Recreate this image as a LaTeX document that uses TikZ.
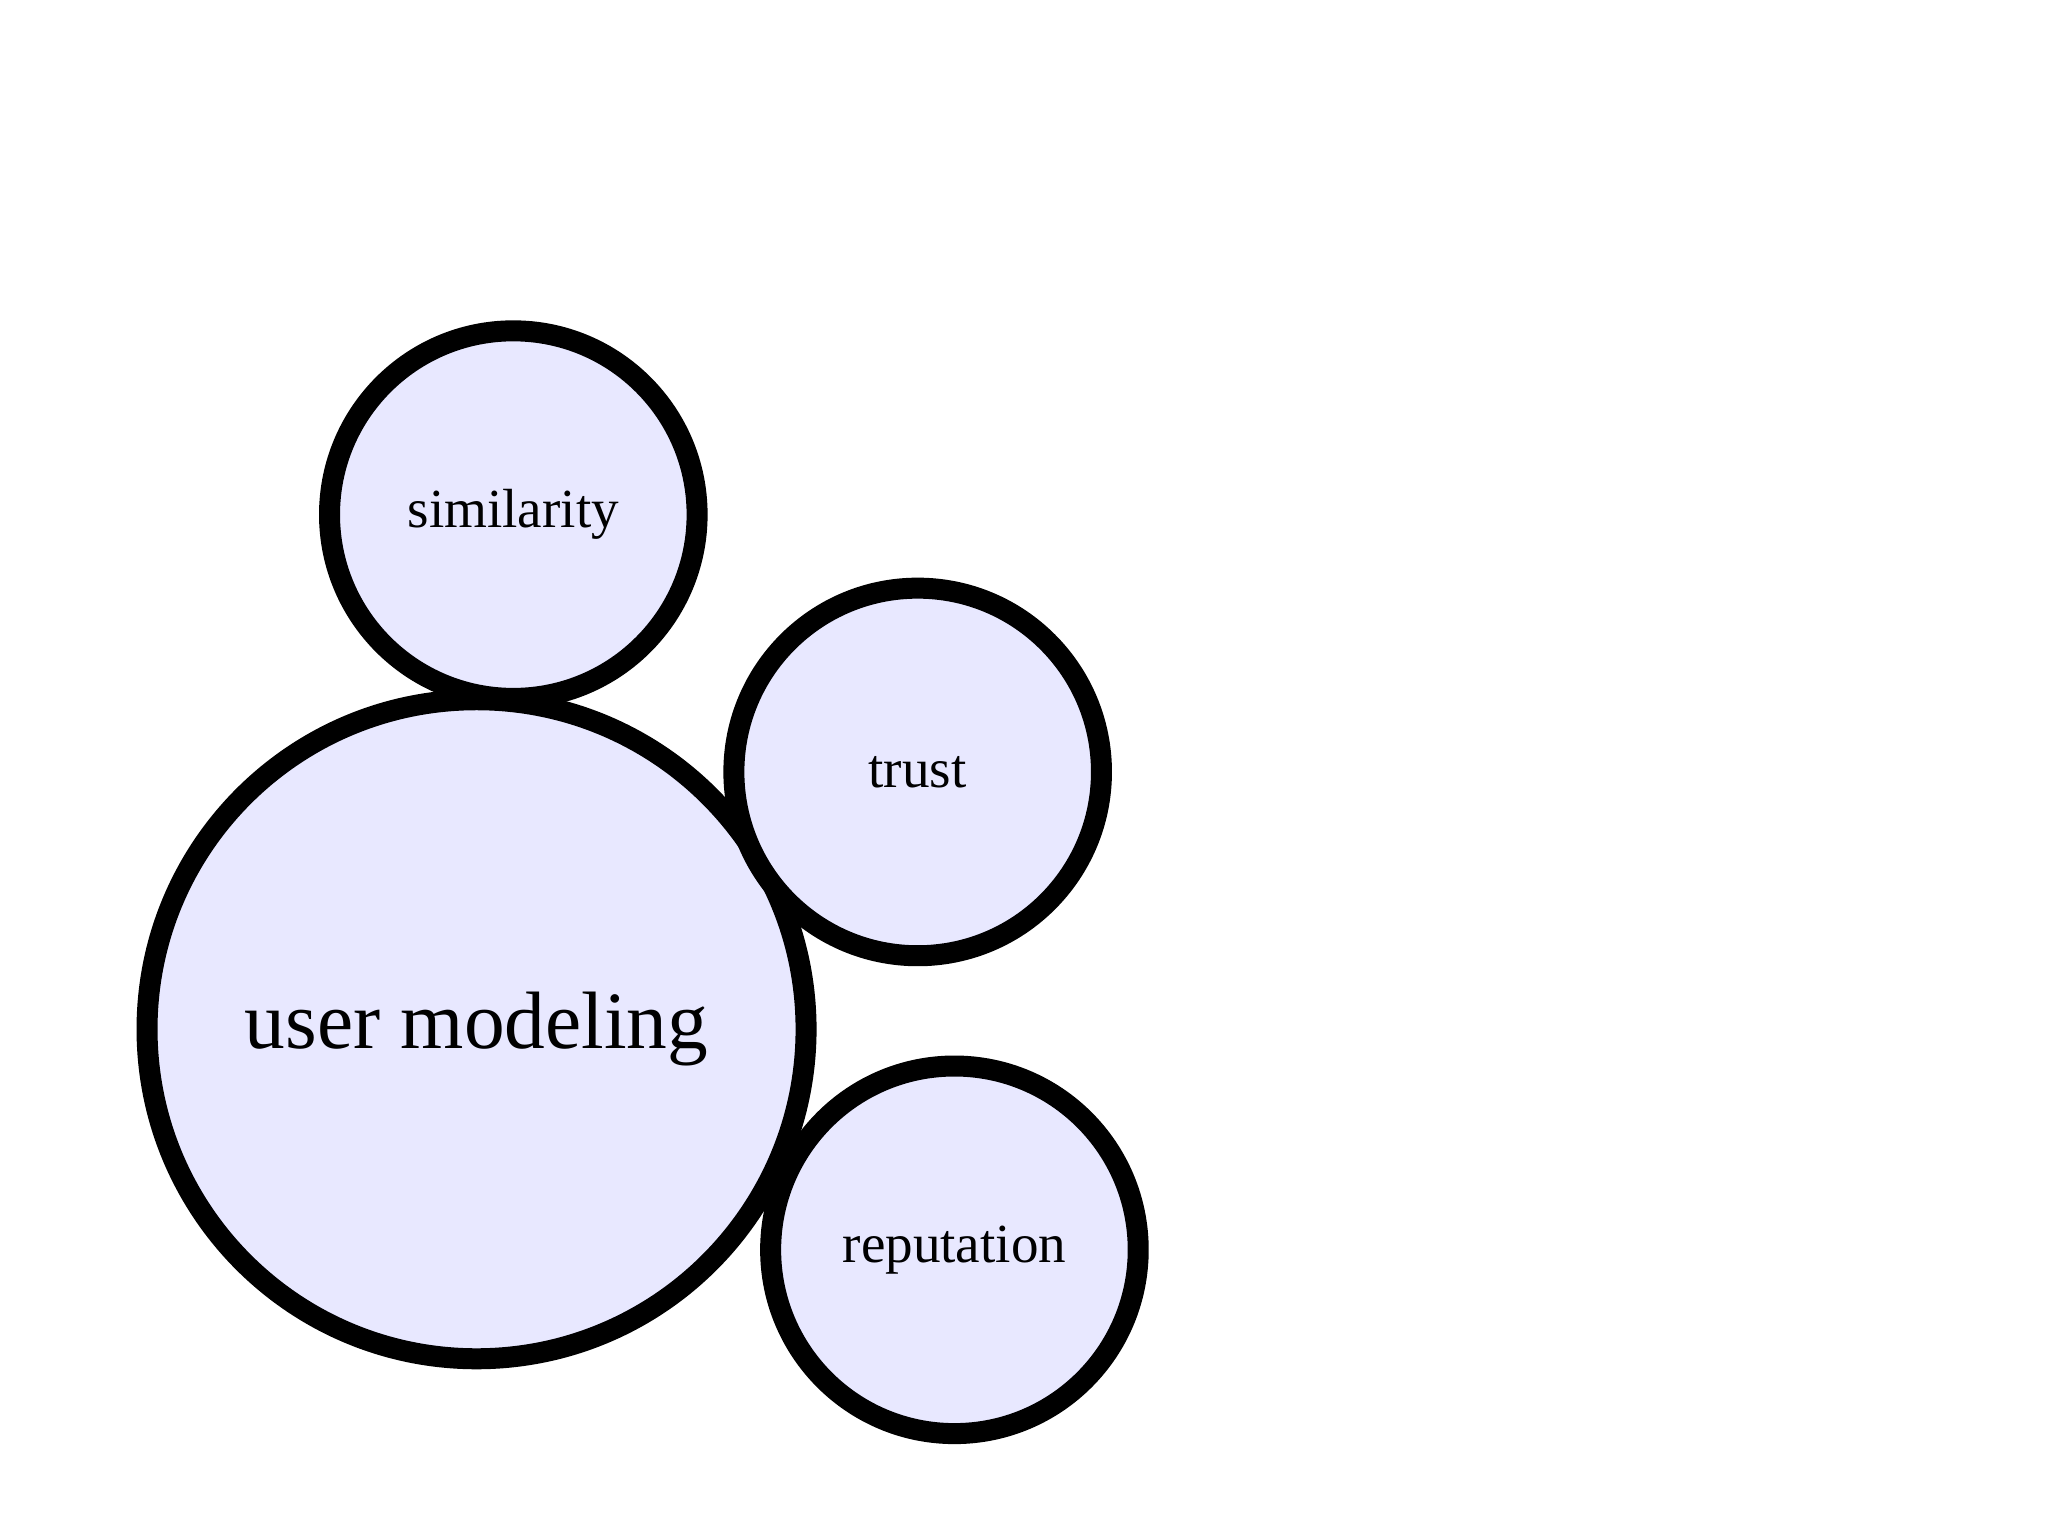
\documentclass[tikz,border=0pt]{standalone}
\usepackage{fontspec}
\setmainfont{Liberation Serif}
\begin{document}
\begin{tikzpicture}[x=1pt,y=-1pt,
  bub/.style={circle,draw=black,line width=16pt,fill=blue!9!white,inner sep=0pt},
  small/.style={font=\fontsize{42}{48}\selectfont}]
\useasboundingbox (0,0) rectangle (1560,1169);
\node[bub,minimum size=502pt,font=\fontsize{62}{70}\selectfont] (um) at (363,784) {user modeling};
\node[bub,minimum size=280pt,small] (sim) at (391,392) {similarity};
\node[bub,minimum size=280pt,small] (tr) at (699,588) {trust};
\node[bub,minimum size=280pt,small] (rep) at (727,952) {reputation};
\end{tikzpicture}
\end{document}
